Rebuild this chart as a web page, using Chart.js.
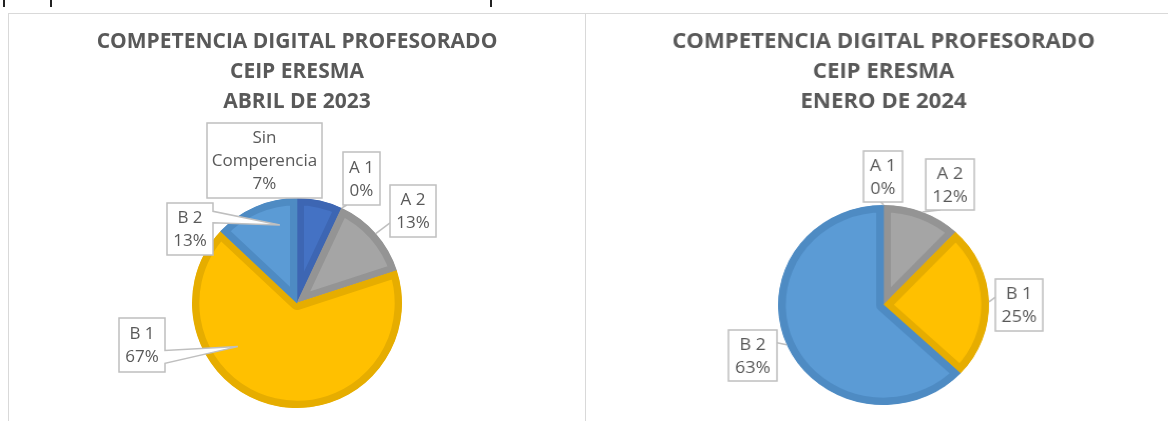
<!DOCTYPE html>
<html>
<head>
<meta charset="utf-8">
<script src="https://cdn.jsdelivr.net/npm/chart.js@4.4.0/dist/chart.umd.min.js"></script>
<style>
  html, body { margin:0; padding:0; background:#fff; }
  body { width:1168px; height:421px; position:relative; overflow:hidden; font-family:"Open Sans", sans-serif; }
  .ln { position:absolute; background:#d9d9d9; }
  .frag { position:absolute; top:0; width:2px; height:7px; background:#222; }
  .wrap { position:absolute; top:14px; }
</style>
</head>
<body>
<div class="frag" style="left:3px"></div>
<div class="frag" style="left:50px"></div>
<div class="frag" style="left:490px"></div>
<div class="ln" style="left:8px;top:13px;width:1160px;height:1px"></div>
<div class="ln" style="left:8px;top:13px;width:1px;height:408px"></div>
<div class="ln" style="left:585px;top:13px;width:1px;height:408px"></div>
<div class="wrap" style="left:9px"><canvas id="c1" width="575" height="407"></canvas></div>
<div class="wrap" style="left:586px;transform:scaleX(1.055);transform-origin:0 0"><canvas id="c2" width="553" height="407"></canvas></div>
<script>
// ---- data ----
const title1 = ["COMPETENCIA DIGITAL PROFESORADO", "CEIP ERESMA", "ABRIL DE 2023"];
const categories1 = ["Sin Comperencia", "A 1", "A 2", "B 1", "B 2"];
const values1 = [7, 0, 13, 67, 13];

const title2 = ["COMPETENCIA DIGITAL PROFESORADO", "CEIP ERESMA", "ENERO DE 2024"];
const categories2 = ["A 1", "A 2", "B 1", "B 2"];
const values2 = [0, 12, 25, 63];

// ---- styles ----
const fill = { "Sin Comperencia": "#4472C4", "A 1": "#ED7D31", "A 2": "#A5A5A5", "B 1": "#FFC000", "B 2": "#5B9BD5" };
const edge = { "Sin Comperencia": "#3D66B3", "A 1": "#D8702B", "A 2": "#949494", "B 1": "#E6AD00", "B 2": "#4E8BC3" };
const TEXT = "#595959";

// callout layout (box relative to pie centre, tip relative to slice)
const layout1 = [
  { x: -90, y: -180, w: 115, h: 75 },
  { x: 46, y: -151, w: 37, h: 53, anchor: [0.1, 1] },
  { x: 93, y: -118, w: 46, h: 52, anchor: [0, 0.73] },
  { x: -178, y: 15, w: 46, h: 54, wedge: [0.6, 0.84], tipDA: 41, tipR: 0.7 },
  { x: -130, y: -100, w: 46, h: 52, wedge: [0.16, 0.38], tipDA: 11, tipR: 0.76 }
];
const layout2 = [
  { x: -19, y: -154, w: 37, h: 51, anchor: [0.45, 1] },
  { x: 40, y: -146, w: 46, h: 51, anchor: [0.3, 1] },
  { x: 106, y: -26, w: 45, h: 52, anchor: [0, 0.35] },
  { x: -147, y: 25, w: 46, h: 51, anchor: [1, 0.25] }
];

const calloutPlugin = {
  id: 'callouts',
  afterDatasetsDraw(chart, args, opts) {
    const ctx = chart.ctx;
    const meta = chart.getDatasetMeta(0);
    const data = chart.data.datasets[0].data;
    const labels = chart.data.labels;
    const total = data.reduce((a, b) => a + b, 0);
    ctx.save();
    ctx.font = opts.font;
    ctx.textAlign = 'center';
    ctx.textBaseline = 'middle';
    meta.data.forEach((arc, i) => {
      const L = opts.items[i];
      if (!L) return;
      const cx = arc.x, cy = arc.y, R = arc.outerRadius;
      const mid = (arc.startAngle + arc.endAngle) / 2 + (L.tipDA || 0) * Math.PI / 180;
      const tr = (L.tipR !== undefined ? L.tipR : 1) * R;
      const tx = cx + Math.cos(mid) * tr, ty = cy + Math.sin(mid) * tr;
      const bx = cx + L.x, by = cy + L.y, bw = L.w, bh = L.h;
      ctx.lineWidth = 1.5;
      ctx.strokeStyle = opts.borderColor;
      ctx.fillStyle = '#ffffff';
      if (L.wedge) {
        const [f1, f2] = L.wedge;
        ctx.beginPath();
        ctx.moveTo(bx, by);
        ctx.lineTo(bx + bw, by);
        ctx.lineTo(bx + bw, by + bh * f1);
        ctx.lineTo(tx, ty);
        ctx.lineTo(bx + bw, by + bh * f2);
        ctx.lineTo(bx + bw, by + bh);
        ctx.lineTo(bx, by + bh);
        ctx.closePath();
        ctx.fill();
        ctx.stroke();
      } else {
        if (L.anchor) {
          ctx.beginPath();
          ctx.moveTo(tx, ty);
          ctx.lineTo(bx + bw * L.anchor[0], by + bh * L.anchor[1]);
          ctx.stroke();
        }
        ctx.fillRect(bx, by, bw, bh);
        ctx.strokeRect(bx, by, bw, bh);
      }
      // wrap label text
      const words = String(labels[i]).split(' ');
      const lines = [];
      let cur = '';
      words.forEach(w => {
        const t = cur ? cur + ' ' + w : w;
        if (cur && ctx.measureText(t).width > bw - 4) { lines.push(cur); cur = w; }
        else cur = t;
      });
      if (cur) lines.push(cur);
      lines.push(Math.round(data[i] / total * 100) + '%');
      ctx.fillStyle = TEXT;
      const lh = opts.lineHeight;
      const y0 = by + bh / 2 - (lines.length - 1) * lh / 2 + 1;
      lines.forEach((s, k) => ctx.fillText(s, bx + bw / 2, y0 + k * lh));
    });
    ctx.restore();
  }
};

function makeChart(id, titles, cats, vals, items, radius, pad, titleBottom) {
  return new Chart(document.getElementById(id), {
    type: 'pie',
    data: {
      labels: cats,
      datasets: [{
        data: vals,
        backgroundColor: cats.map(c => fill[c]),
        borderColor: cats.map(c => edge[c]),
        borderWidth: 7,
        borderAlign: 'inner',
        hoverOffset: 0
      }]
    },
    options: {
      responsive: false,
      animation: false,
      events: [],
      radius: radius,
      layout: { padding: pad },
      plugins: {
        legend: { display: false },
        tooltip: { enabled: false },
        title: {
          display: true,
          text: titles,
          color: TEXT,
          font: { family: "'Open Sans', sans-serif", size: 21, weight: 'bold', lineHeight: 30 / 21 },
          padding: { top: 13, bottom: titleBottom }
        },
        callouts: {
          items: items,
          font: "17px 'Open Sans', sans-serif",
          lineHeight: 23,
          borderColor: '#bfbfbf'
        }
      }
    },
    plugins: [calloutPlugin]
  });
}

makeChart('c1', title1, categories1, values1, layout1, 105, { left: 1, right: 0, top: 0, bottom: 2 }, 70);
makeChart('c2', title2, categories2, values2, layout2, 100, { left: 11, right: 0, top: 0, bottom: 2 }, 74);
</script>
</body>
</html>
